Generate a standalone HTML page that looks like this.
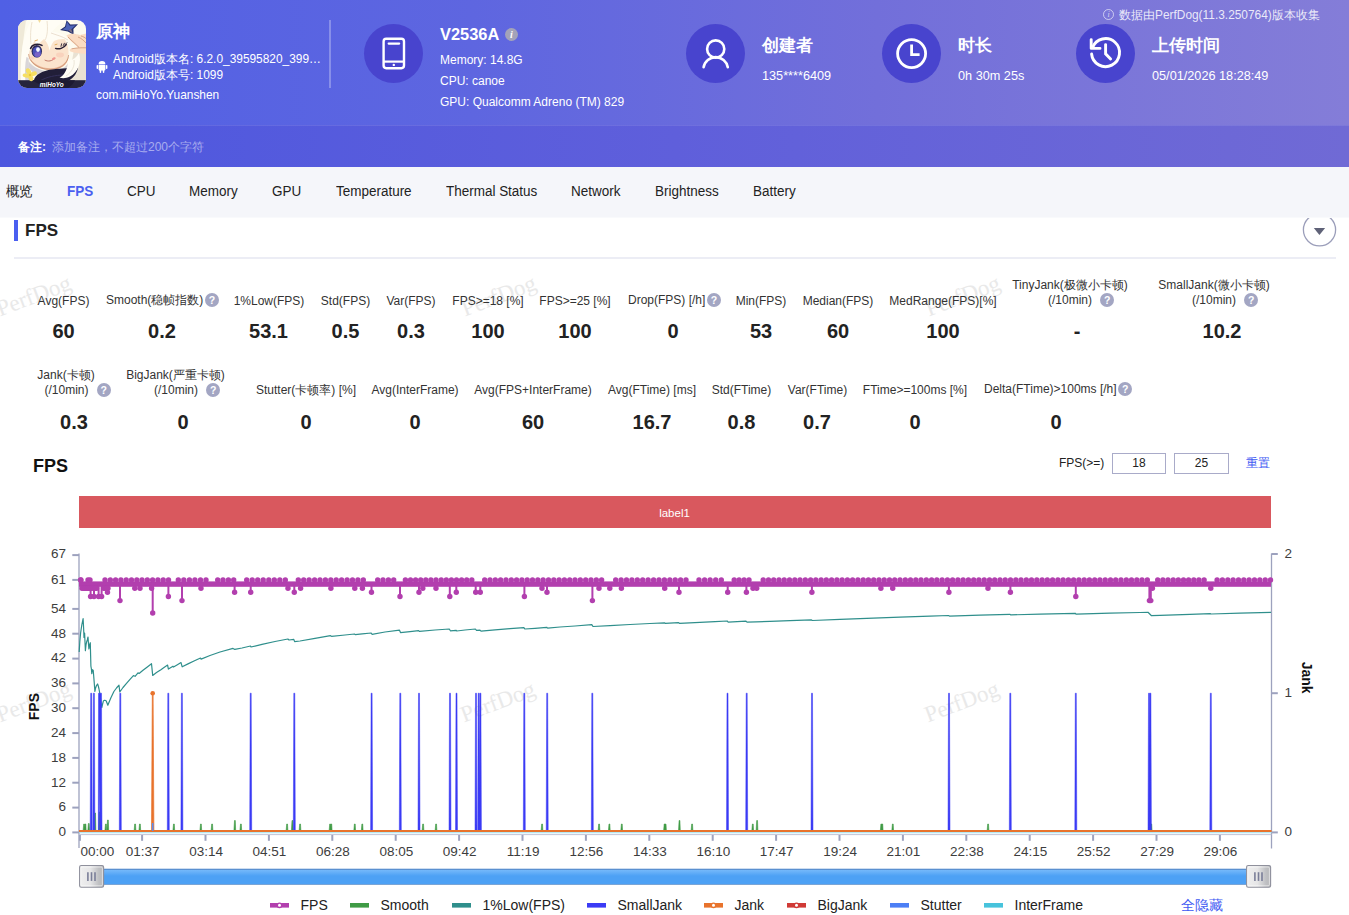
<!DOCTYPE html>
<html>
<head>
<meta charset="utf-8">
<title>PerfDog</title>
<style>
*{box-sizing:border-box;margin:0;padding:0}
html,body{width:1349px;height:915px;overflow:hidden;background:#fff}
body{font-family:"Liberation Sans",sans-serif;color:#222;position:relative}
.abs{position:absolute;white-space:nowrap}
#hdr{position:absolute;left:0;top:0;width:1349px;height:167px;background:linear-gradient(90deg,#5060e5 0%,#5e66e0 35%,#726fda 65%,#847dd8 100%)}
#note{position:absolute;left:0;top:125px;width:1349px;height:42px;background:linear-gradient(90deg,#4c57df 0%,#5f5fdb 50%,#706ad5 100%);border-top:1px solid rgba(255,255,255,.1)}
#tabs{position:absolute;left:0;top:167px;width:1349px;height:50px;background:#f5f6fa;z-index:2}
.w{color:#fff}
.circ{position:absolute;width:59px;height:59px;border-radius:50%;background:#4844ce}
.tab{position:absolute;z-index:3;top:183px;font-size:14px;line-height:16px;color:#222;white-space:nowrap;transform:scaleX(.962);transform-origin:left center}
.sl{position:absolute;font-size:12px;line-height:15px;color:#333;text-align:center;white-space:nowrap;transform:translateX(-50%)}
.sv{position:absolute;font-size:20px;line-height:24px;font-weight:bold;color:#222;text-align:center;white-space:nowrap;transform:translateX(-50%)}
.q{display:inline-block;width:14px;height:14px;border-radius:50%;background:#a3a6c3;color:#fff;font-size:10.5px;line-height:14px;font-weight:bold;text-align:center;vertical-align:0.25px;margin-left:1.5px}
.q2{vertical-align:0.25px}
.wm{position:absolute;font-family:"Liberation Serif",serif;font-size:23px;line-height:26px;height:26px;color:#e9e9e9;transform:rotate(-20.5deg);transform-origin:left bottom;white-space:nowrap}
.lg{position:absolute;top:897px;font-size:14px;line-height:16px;color:#222;white-space:nowrap}
</style>
</head>
<body>
<div id="hdr"></div>
<div id="note"></div>
<div id="tabs"></div>
<!-- app icon -->
<svg class="abs" style="left:18px;top:19.7px" width="68" height="68" viewBox="0 0 68 68">
<defs><clipPath id="ic"><rect x="0" y="0" width="68" height="68" rx="9" ry="9"/></clipPath></defs>
<g clip-path="url(#ic)">
<rect width="68" height="68" fill="#fdfbef"/>
<path d="M56 30L68 28V62H50Z" fill="#e9e2d3"/>
<path d="M0 0H8L4 30L3 62H0Z" fill="#efe9d8"/>
<!-- face -->
<path d="M12 24C16 14 30 11 40 14C48 17 51 26 50.5 34C50 44 42 49 32 49C20 49 10 42 10 33C10 29 11 26 12 24Z" fill="#fbe4cd"/>
<path d="M11 36C14 44 24 48.4 33 48.2C42 48 48 44 50.4 36C50.6 45 42 50 32 50C21 50 12 44 11 36Z" fill="#eab898"/>
<!-- gray hair shade under face -->
<path d="M9 38C12 46 22 51.5 33 51.5C42 51.5 49 47 51 41L54 45C50 54 40 57 30 57C20 57 12 52 9 44Z" fill="#d6d3d6"/>
<path d="M6 36C7 46 9 54 10 61H4C4 52 4 44 6 36Z" fill="#dcd9d9"/>
<!-- hair -->
<path d="M3 62C2 40 4 14 14 0H52C44 2 38 6 34 12C40 12 47 14 51 20C46 18 40 19 36 21C33 25 32 28 31.5 31C31 26 29 22 26 19C22 22 19 26 18 30C17.5 26 17 23 17.5 20C13 25 10.5 32 10.5 38C10 46 11 54 12 62Z" fill="#fffdf5"/>
<path d="M10.6 38C10.4 46 12 54 13.4 61H7.4C6.6 52 7 44 8.4 37Z" fill="#d9d6d8"/><path d="M10.6 34C11 42 20 49.4 32 49.4C42 49.4 50 44 50.6 35" stroke="#c58e6e" stroke-width="0.7" fill="none"/><path d="M14 2C12 12 12.5 20 13 24" stroke="#e9dcc8" stroke-width="0.8" fill="none"/>
<path d="M29 1C30 8 29.5 16 27 20" stroke="#e9dcc8" stroke-width="0.8" fill="none"/>
<path d="M33 13C38 15 44 16 50 20" stroke="#e3d3c0" stroke-width="0.7" fill="none"/>
<path d="M20 0L21.5 3L23 0Z" fill="#f3dc9a"/>
<!-- eye -->
<ellipse cx="18.8" cy="31.2" rx="5.2" ry="6.3" fill="#2d2a5a"/>
<ellipse cx="19" cy="32" rx="4.3" ry="5.2" fill="#4a50b8"/>
<ellipse cx="19.6" cy="34.4" rx="3" ry="2.4" fill="#7a62c8"/>
<ellipse cx="20" cy="29.6" rx="1.9" ry="2.4" fill="#f4f6ff"/>
<path d="M12.6 28.4C14 24.6 19 23 24 25.4" stroke="#2a2035" stroke-width="1.6" fill="none" stroke-linecap="round"/>
<path d="M17 20.8L19.5 20" stroke="#e6b060" stroke-width="1" stroke-linecap="round"/>
<!-- wink -->
<path d="M37.6 28.4C41 29.6 45.6 28.4 48.2 24.6" stroke="#2a2035" stroke-width="1.5" fill="none" stroke-linecap="round"/>
<path d="M43 26.4L43.6 23.8M45.2 25.6L46.4 23.2M47 24.6L48.8 22.8" stroke="#2a2035" stroke-width="0.9" stroke-linecap="round"/>
<path d="M37 24.8L39 24.2" stroke="#e6b060" stroke-width="1" stroke-linecap="round"/>
<ellipse cx="42" cy="35" rx="4" ry="2.4" fill="#f9d3bd"/>
<ellipse cx="14" cy="38" rx="2.6" ry="1.8" fill="#f9d3bd"/>
<!-- mouth -->
<path d="M27 40.2C30 41.8 34 41.2 36.6 38.4" stroke="#c27a6c" stroke-width="1" fill="none" stroke-linecap="round"/>
<ellipse cx="35.8" cy="38.6" rx="2" ry="1.2" fill="#f0968f" transform="rotate(-25 35.8 38.6)"/>
<!-- star -->
<path d="M48.6 0.2L52.4 4.6L60 4.2L55.4 9L55.6 14.8L49.8 11.4L42 10L47 6.4Z" fill="#26306e"/>
<path d="M48.8 1.6L51.8 5.8L57.6 5.2L53.6 9L50 10.6L44.6 9.6L48 7Z" fill="#4d64b8"/>
<path d="M50.4 10.2L53.2 8.8L54.6 13.2Z" fill="#7a7088"/>
<!-- hand -->
<path d="M48.4 15.6C52 12.6 58 13.8 62 15L68 13.6V34C62 33.4 56 33 52.6 31.6C51 30.8 51.6 28.8 53.6 28.6L60 27.6C56 23.6 51 20 48.4 15.6Z" fill="#fbdcc2"/>
<path d="M50 17C54 21 58 24.4 61 27.4M53.6 28.8C58 28 63 27.6 68 27.8M60 17C63 18 66 20.6 68 23M63 16C65.4 16.6 67 17.6 68 18.6" stroke="#c78f6e" stroke-width="0.7" fill="none"/>
<!-- scarf -->
<path d="M16 60C17 55 24 50.6 34 49.4C44 48.2 54 48.4 60 46C60 52 56 58 50 61H16Z" fill="#211e38"/>
<path d="M22 61C28 57 38 55 46 55" stroke="#34305a" stroke-width="1" fill="none"/>
<!-- white lock over scarf -->
<path d="M50 40C54 41 58 38 61 33C64 42 60 52 52 56.6C48 58.6 44 58.4 41.6 57.6C47 55 50 48 50 40Z" fill="#fffdf5"/>
<path d="M56 40C57 46 54 52 48 56" stroke="#e4dccb" stroke-width="0.7" fill="none"/>
<!-- bottom bar -->
<rect x="0" y="60.2" width="68" height="8" fill="#26243b"/>
<path d="M14 60.2C18 63 26 66 34 68H50C54 65 56 62.6 57 60.2Z" fill="#1d1a31"/>
<!-- flower -->
<g fill="#f6df62"><ellipse cx="10.6" cy="51.6" rx="2.4" ry="3.6" transform="rotate(-30 10.6 51.6)"/><ellipse cx="15.6" cy="53.8" rx="3.4" ry="2.2" transform="rotate(-20 15.6 53.8)"/><ellipse cx="8" cy="55.6" rx="3.4" ry="2" transform="rotate(15 8 55.6)"/><ellipse cx="12.8" cy="58" rx="2.4" ry="3.2" transform="rotate(-20 12.8 58)"/><circle cx="11.8" cy="55" r="2.4"/></g>
<circle cx="12" cy="55" r="1.2" fill="#e9c53c"/>
<text x="33.8" y="66.8" font-family="Liberation Sans, sans-serif" font-size="7.2" font-weight="bold" font-style="italic" fill="#fff" text-anchor="middle" textLength="24" lengthAdjust="spacingAndGlyphs">miHoYo</text>
</g>
</svg>
<div class="abs w" style="left:96px;top:22px;font-size:17px;line-height:20px;font-weight:bold">原神</div>
<!-- android icon -->
<svg class="abs" style="left:96px;top:60px" width="12" height="14" viewBox="0 0 12 14">
<path d="M2.6 4.2a3.4 3.2 0 0 1 6.8 0Z" fill="#fff"/>
<rect x="2.6" y="4.8" width="6.8" height="5.6" rx="0.8" fill="#fff"/>
<rect x="0.6" y="4.9" width="1.5" height="4.2" rx="0.75" fill="#fff"/>
<rect x="9.9" y="4.9" width="1.5" height="4.2" rx="0.75" fill="#fff"/>
<rect x="3.7" y="9.6" width="1.5" height="3.4" rx="0.75" fill="#fff"/>
<rect x="6.8" y="9.6" width="1.5" height="3.4" rx="0.75" fill="#fff"/>
</svg>
<div class="abs w" style="left:113px;top:51px;font-size:11.9px;line-height:16px">Android版本名: 6.2.0_39595820_399…</div>
<div class="abs w" style="left:113px;top:67px;font-size:11.9px;line-height:16px">Android版本号: 1099</div>
<div class="abs w" style="left:96px;top:87px;font-size:11.9px;line-height:16px">com.miHoYo.Yuanshen</div>
<div class="abs" style="left:329px;top:20px;width:2px;height:68px;background:rgba(255,255,255,.28)"></div>
<!-- device -->
<div class="circ" style="left:364px;top:24px"></div>
<svg class="abs" style="left:364px;top:24px" width="59" height="59" viewBox="0 0 59 59">
<rect x="19.6" y="14.8" width="20.4" height="29.4" rx="2.6" fill="none" stroke="#fff" stroke-width="2.4"/>
<line x1="19.6" y1="37.6" x2="40" y2="37.6" stroke="#fff" stroke-width="2.2"/>
<line x1="24.6" y1="19.6" x2="35.2" y2="19.6" stroke="#fff" stroke-width="2.1" stroke-linecap="round"/>
<circle cx="29.8" cy="40.9" r="1.2" fill="#fff"/>
</svg>
<div class="abs w" style="left:440px;top:24px;font-size:16.4px;line-height:20px;font-weight:bold">V2536A</div>
<div class="abs" style="left:505px;top:27.5px;width:13px;height:13px;border-radius:50%;background:#a3a3b9;color:#fff;font-size:10px;line-height:13px;text-align:center;font-style:italic;font-weight:bold;font-family:'Liberation Serif',serif">i</div>
<div class="abs w" style="left:440px;top:52px;font-size:12px;line-height:16px">Memory: 14.8G</div>
<div class="abs w" style="left:440px;top:73px;font-size:12px;line-height:16px">CPU: canoe</div>
<div class="abs w" style="left:440px;top:94px;font-size:12px;line-height:16px">GPU: Qualcomm Adreno (TM) 829</div>
<!-- creator -->
<div class="circ" style="left:686px;top:24px"></div>
<svg class="abs" style="left:686px;top:24px" width="59" height="59" viewBox="0 0 59 59">
<circle cx="29.7" cy="25" r="8.6" fill="none" stroke="#fff" stroke-width="2.6"/>
<path d="M17.6 43.2A12.3 12.3 0 0 1 41.8 43.2" fill="none" stroke="#fff" stroke-width="2.6" stroke-linecap="round"/>
</svg>
<div class="abs w" style="left:762px;top:35px;font-size:16.5px;line-height:20px;font-weight:bold">创建者</div>
<div class="abs w" style="left:762px;top:68px;font-size:12.7px;line-height:16px">135****6409</div>
<!-- duration -->
<div class="circ" style="left:882px;top:24px"></div>
<svg class="abs" style="left:882px;top:24px" width="59" height="59" viewBox="0 0 59 59">
<circle cx="29.6" cy="29.6" r="14" fill="none" stroke="#fff" stroke-width="2.8"/>
<path d="M29.6 20.4V30.6H37.6" fill="none" stroke="#fff" stroke-width="2.8"/>
</svg>
<div class="abs w" style="left:958px;top:35px;font-size:16.5px;line-height:20px;font-weight:bold">时长</div>
<div class="abs w" style="left:958px;top:68px;font-size:12.7px;line-height:16px">0h 30m 25s</div>
<!-- upload -->
<div class="circ" style="left:1076px;top:24px"></div>
<svg class="abs" style="left:1076px;top:24px" width="59" height="59" viewBox="0 0 59 59">
<path d="M16.5 23.5A14 14 0 1 1 15.6 30" fill="none" stroke="#fff" stroke-width="2.9" stroke-linecap="round"/>
<path d="M15.2 15.6V24.4H24" fill="none" stroke="#fff" stroke-width="2.9" stroke-linecap="round" stroke-linejoin="round"/>
<path d="M29.6 20.6V29.8L34.6 35" fill="none" stroke="#fff" stroke-width="2.9" stroke-linecap="round"/>
</svg>
<div class="abs w" style="left:1152px;top:35px;font-size:16.5px;line-height:20px;font-weight:bold">上传时间</div>
<div class="abs w" style="left:1152px;top:68px;font-size:12.7px;line-height:16px">05/01/2026 18:28:49</div>
<!-- collected by -->
<div class="abs" style="left:1103px;top:9px;width:11px;height:11px;border-radius:50%;border:1px solid rgba(255,255,255,.6);color:rgba(255,255,255,.7);font-size:8px;line-height:9px;text-align:center;font-style:italic;font-family:'Liberation Serif',serif">i</div>
<div class="abs" style="left:1119px;top:7px;font-size:11.9px;line-height:16px;color:rgba(255,255,255,.85)">数据由PerfDog(11.3.250764)版本收集</div>
<!-- note -->
<div class="abs w" style="left:18px;top:139px;font-size:12px;line-height:16px;font-weight:bold">备注:</div>
<div class="abs" style="left:52px;top:139px;font-size:12px;line-height:16px;color:rgba(255,255,255,.5)">添加备注，不超过200个字符</div>

<div class="tab" style="left:6px">概览</div>
<div class="tab" style="left:67px;color:#4a5ff0;font-weight:bold">FPS</div>
<div class="tab" style="left:127px">CPU</div>
<div class="tab" style="left:189px">Memory</div>
<div class="tab" style="left:272px">GPU</div>
<div class="tab" style="left:336px">Temperature</div>
<div class="tab" style="left:446px">Thermal Status</div>
<div class="tab" style="left:571px">Network</div>
<div class="tab" style="left:655px">Brightness</div>
<div class="tab" style="left:753px">Battery</div>
<div class="abs" style="left:14px;top:220px;width:4px;height:21px;background:#4a5ff0"></div>
<div class="abs" style="left:25px;top:221px;font-size:17px;line-height:20px;font-weight:bold;color:#222">FPS</div>
<svg class="abs" style="left:1295px;top:205px" width="50" height="50" viewBox="1295 205 50 50"><circle cx="1319.5" cy="229.8" r="16.1" fill="#fff" stroke="#9b9eba" stroke-width="1.3"/><path d="M1313.8 227.9H1325.1L1319.45 234.9Z" fill="#5f6278"/></svg>
<div class="abs" style="left:14px;top:257px;width:1322px;height:2px;background:#ecedf5"></div>
<div class="abs" style="left:0;top:217px;width:1349px;height:1px;background:#f9fafc;z-index:2"></div>

<div class="wm" style="left:2px;top:295.5px">PerfDog</div>
<div class="wm" style="left:467px;top:295.5px">PerfDog</div>
<div class="wm" style="left:931px;top:295.5px">PerfDog</div>
<div class="wm" style="left:2px;top:701.5px">PerfDog</div>
<div class="wm" style="left:466px;top:701.5px">PerfDog</div>
<div class="wm" style="left:930px;top:701.5px">PerfDog</div>
<div class="sl" style="left:63.5px;top:294.0px">Avg(FPS)</div>
<div class="sv" style="left:63.5px;top:319px">60</div>
<div class="sl" style="left:106px;top:293.0px;transform:none">Smooth(稳帧指数)<span class="q">?</span></div>
<div class="sv" style="left:162px;top:319px">0.2</div>
<div class="sl" style="left:269px;top:294.0px">1%Low(FPS)</div>
<div class="sv" style="left:268.5px;top:319px">53.1</div>
<div class="sl" style="left:345.5px;top:294.0px">Std(FPS)</div>
<div class="sv" style="left:345.5px;top:319px">0.5</div>
<div class="sl" style="left:411px;top:294.0px">Var(FPS)</div>
<div class="sv" style="left:411px;top:319px">0.3</div>
<div class="sl" style="left:488px;top:294.0px">FPS&gt;=18 [%]</div>
<div class="sv" style="left:488px;top:319px">100</div>
<div class="sl" style="left:575px;top:294.0px">FPS&gt;=25 [%]</div>
<div class="sv" style="left:575px;top:319px">100</div>
<div class="sl" style="left:628px;top:293.0px;transform:none">Drop(FPS) [/h]<span class="q">?</span></div>
<div class="sv" style="left:673px;top:319px">0</div>
<div class="sl" style="left:761px;top:294.0px">Min(FPS)</div>
<div class="sv" style="left:761px;top:319px">53</div>
<div class="sl" style="left:838px;top:294.0px">Median(FPS)</div>
<div class="sv" style="left:838px;top:319px">60</div>
<div class="sl" style="left:943px;top:294.0px">MedRange(FPS)[%]</div>
<div class="sv" style="left:943px;top:319px">100</div>
<div class="sl" style="left:1070px;top:278.0px">TinyJank(极微小卡顿)</div>
<div class="sl" style="left:1048px;top:293.0px;transform:none">(/10min) &nbsp;<span class="q q2">?</span></div>
<div class="sv" style="left:1077px;top:319px">-</div>
<div class="sl" style="left:1214px;top:278.0px">SmallJank(微小卡顿)</div>
<div class="sl" style="left:1192px;top:293.0px;transform:none">(/10min) &nbsp;<span class="q q2">?</span></div>
<div class="sv" style="left:1222px;top:319px">10.2</div>
<div class="sl" style="left:66px;top:368.0px">Jank(卡顿)</div>
<div class="sl" style="left:44.5px;top:383.0px;transform:none">(/10min) &nbsp;<span class="q q2">?</span></div>
<div class="sv" style="left:74px;top:409.5px">0.3</div>
<div class="sl" style="left:175.5px;top:368.0px">BigJank(严重卡顿)</div>
<div class="sl" style="left:154px;top:383.0px;transform:none">(/10min) &nbsp;<span class="q q2">?</span></div>
<div class="sv" style="left:183px;top:409.5px">0</div>
<div class="sl" style="left:306px;top:383.0px">Stutter(卡顿率) [%]</div>
<div class="sv" style="left:306px;top:409.5px">0</div>
<div class="sl" style="left:415px;top:383.0px">Avg(InterFrame)</div>
<div class="sv" style="left:415px;top:409.5px">0</div>
<div class="sl" style="left:533px;top:383.0px">Avg(FPS+InterFrame)</div>
<div class="sv" style="left:533px;top:409.5px">60</div>
<div class="sl" style="left:652px;top:383.0px">Avg(FTime) [ms]</div>
<div class="sv" style="left:652px;top:409.5px">16.7</div>
<div class="sl" style="left:741.5px;top:383.0px">Std(FTime)</div>
<div class="sv" style="left:741.5px;top:409.5px">0.8</div>
<div class="sl" style="left:817.5px;top:383.0px">Var(FTime)</div>
<div class="sv" style="left:817px;top:409.5px">0.7</div>
<div class="sl" style="left:915px;top:383.0px">FTime&gt;=100ms [%]</div>
<div class="sv" style="left:915px;top:409.5px">0</div>
<div class="sl" style="left:984px;top:382.0px;transform:none">Delta(FTime)&gt;100ms [/h]<span class="q">?</span></div>
<div class="sv" style="left:1056px;top:409.5px">0</div>
<div class="abs" style="left:33px;top:456px;font-size:18px;line-height:20px;font-weight:bold;color:#111">FPS</div>
<div class="abs" style="left:1059px;top:456px;font-size:12px;line-height:15px;color:#222">FPS(&gt;=)</div>
<div class="abs" style="left:1112px;top:453px;width:54px;height:21px;border:1px solid #a9abc9;background:#fff;font-size:12px;line-height:19px;text-align:center;color:#222">18</div>
<div class="abs" style="left:1174px;top:453px;width:55px;height:21px;border:1px solid #a9abc9;background:#fff;font-size:12px;line-height:19px;text-align:center;color:#222">25</div>
<div class="abs" style="left:1246px;top:455px;font-size:12px;line-height:16px;color:#3f5af3">重置</div>

<svg class="abs" style="left:0;top:440px" width="1349" height="475" viewBox="0 440 1349 475" font-family="Liberation Sans, sans-serif">
<rect x="79" y="496" width="1192" height="32" fill="#d9585e"/>
<text x="674.5" y="516.6" font-size="11.5" fill="#fff" text-anchor="middle">label1</text>
<path d="M79 553.5V848" stroke="#9da2be" stroke-width="1.3" fill="none"/>
<path d="M1271.5 553.4V848.5" stroke="#9da2be" stroke-width="1.3" fill="none"/>
<path d="M79 834.6H1271.5" stroke="#bcbed2" stroke-width="0.9"/>
<path d="M72.3 555.1H79" stroke="#9da2be" stroke-width="2"/>
<text x="66" y="557.9" font-size="13.5" fill="#3d3d3d" text-anchor="end">67</text>
<path d="M72.3 579.9H79" stroke="#9da2be" stroke-width="2"/>
<text x="66" y="583.7" font-size="13.5" fill="#3d3d3d" text-anchor="end">61</text>
<path d="M72.3 608.9H79" stroke="#9da2be" stroke-width="2"/>
<text x="66" y="612.7" font-size="13.5" fill="#3d3d3d" text-anchor="end">54</text>
<path d="M72.3 633.7H79" stroke="#9da2be" stroke-width="2"/>
<text x="66" y="637.5" font-size="13.5" fill="#3d3d3d" text-anchor="end">48</text>
<path d="M72.3 658.6H79" stroke="#9da2be" stroke-width="2"/>
<text x="66" y="662.4" font-size="13.5" fill="#3d3d3d" text-anchor="end">42</text>
<path d="M72.3 683.4H79" stroke="#9da2be" stroke-width="2"/>
<text x="66" y="687.2" font-size="13.5" fill="#3d3d3d" text-anchor="end">36</text>
<path d="M72.3 708.2H79" stroke="#9da2be" stroke-width="2"/>
<text x="66" y="712.0" font-size="13.5" fill="#3d3d3d" text-anchor="end">30</text>
<path d="M72.3 733.1H79" stroke="#9da2be" stroke-width="2"/>
<text x="66" y="736.9" font-size="13.5" fill="#3d3d3d" text-anchor="end">24</text>
<path d="M72.3 757.9H79" stroke="#9da2be" stroke-width="2"/>
<text x="66" y="761.7" font-size="13.5" fill="#3d3d3d" text-anchor="end">18</text>
<path d="M72.3 782.7H79" stroke="#9da2be" stroke-width="2"/>
<text x="66" y="786.5" font-size="13.5" fill="#3d3d3d" text-anchor="end">12</text>
<path d="M72.3 807.6H79" stroke="#9da2be" stroke-width="2"/>
<text x="66" y="811.4" font-size="13.5" fill="#3d3d3d" text-anchor="end">6</text>
<path d="M72.3 832.4H79" stroke="#9da2be" stroke-width="2"/>
<text x="66" y="836.2" font-size="13.5" fill="#3d3d3d" text-anchor="end">0</text>
<path d="M1271.5 554.0H1277.8" stroke="#9da2be" stroke-width="2"/>
<text x="1284.4" y="558.0" font-size="13.5" fill="#3d3d3d">2</text>
<path d="M1271.5 693.2H1277.8" stroke="#9da2be" stroke-width="2"/>
<text x="1284.4" y="697.2" font-size="13.5" fill="#3d3d3d">1</text>
<path d="M1271.5 832.4H1277.8" stroke="#9da2be" stroke-width="2"/>
<text x="1284.4" y="836.4" font-size="13.5" fill="#3d3d3d">0</text>
<text transform="translate(39.4,706.6) rotate(-90)" font-size="14" font-weight="bold" fill="#111" text-anchor="middle">FPS</text>
<text transform="translate(1302.3,677.7) rotate(90)" font-size="14" font-weight="bold" fill="#111" text-anchor="middle">Jank</text>
<path d="M79.9 835V840.8" stroke="#9da2be" stroke-width="2"/>
<text x="97.3" y="855.9" font-size="13.5" fill="#3d3d3d" text-anchor="middle">00:00</text>
<path d="M142.1 835V840.8" stroke="#9da2be" stroke-width="2"/>
<text x="142.7" y="855.9" font-size="13.5" fill="#3d3d3d" text-anchor="middle">01:37</text>
<path d="M205.5 835V840.8" stroke="#9da2be" stroke-width="2"/>
<text x="206.1" y="855.9" font-size="13.5" fill="#3d3d3d" text-anchor="middle">03:14</text>
<path d="M268.9 835V840.8" stroke="#9da2be" stroke-width="2"/>
<text x="269.5" y="855.9" font-size="13.5" fill="#3d3d3d" text-anchor="middle">04:51</text>
<path d="M332.3 835V840.8" stroke="#9da2be" stroke-width="2"/>
<text x="332.9" y="855.9" font-size="13.5" fill="#3d3d3d" text-anchor="middle">06:28</text>
<path d="M395.7 835V840.8" stroke="#9da2be" stroke-width="2"/>
<text x="396.3" y="855.9" font-size="13.5" fill="#3d3d3d" text-anchor="middle">08:05</text>
<path d="M459.1 835V840.8" stroke="#9da2be" stroke-width="2"/>
<text x="459.7" y="855.9" font-size="13.5" fill="#3d3d3d" text-anchor="middle">09:42</text>
<path d="M522.5 835V840.8" stroke="#9da2be" stroke-width="2"/>
<text x="523.1" y="855.9" font-size="13.5" fill="#3d3d3d" text-anchor="middle">11:19</text>
<path d="M585.9 835V840.8" stroke="#9da2be" stroke-width="2"/>
<text x="586.5" y="855.9" font-size="13.5" fill="#3d3d3d" text-anchor="middle">12:56</text>
<path d="M649.3 835V840.8" stroke="#9da2be" stroke-width="2"/>
<text x="649.9" y="855.9" font-size="13.5" fill="#3d3d3d" text-anchor="middle">14:33</text>
<path d="M712.7 835V840.8" stroke="#9da2be" stroke-width="2"/>
<text x="713.3" y="855.9" font-size="13.5" fill="#3d3d3d" text-anchor="middle">16:10</text>
<path d="M776.1 835V840.8" stroke="#9da2be" stroke-width="2"/>
<text x="776.7" y="855.9" font-size="13.5" fill="#3d3d3d" text-anchor="middle">17:47</text>
<path d="M839.5 835V840.8" stroke="#9da2be" stroke-width="2"/>
<text x="840.1" y="855.9" font-size="13.5" fill="#3d3d3d" text-anchor="middle">19:24</text>
<path d="M902.9 835V840.8" stroke="#9da2be" stroke-width="2"/>
<text x="903.5" y="855.9" font-size="13.5" fill="#3d3d3d" text-anchor="middle">21:01</text>
<path d="M966.3 835V840.8" stroke="#9da2be" stroke-width="2"/>
<text x="966.9" y="855.9" font-size="13.5" fill="#3d3d3d" text-anchor="middle">22:38</text>
<path d="M1029.7 835V840.8" stroke="#9da2be" stroke-width="2"/>
<text x="1030.3" y="855.9" font-size="13.5" fill="#3d3d3d" text-anchor="middle">24:15</text>
<path d="M1093.1 835V840.8" stroke="#9da2be" stroke-width="2"/>
<text x="1093.7" y="855.9" font-size="13.5" fill="#3d3d3d" text-anchor="middle">25:52</text>
<path d="M1156.5 835V840.8" stroke="#9da2be" stroke-width="2"/>
<text x="1157.1" y="855.9" font-size="13.5" fill="#3d3d3d" text-anchor="middle">27:29</text>
<path d="M1219.9 835V840.8" stroke="#9da2be" stroke-width="2"/>
<text x="1220.5" y="855.9" font-size="13.5" fill="#3d3d3d" text-anchor="middle">29:06</text>
<path d="M83.1 831L83.7 824L84.5 824L84.9 831ZM84.4 831L85.0 824L85.8 824L86.2 831ZM87.8 831L88.4 823.5L89.2 823.5L89.6 831ZM94.1 831L94.7 813L95.5 813L95.9 831ZM98.7 831L99.3 812L100.1 812L100.5 831ZM104.9 831L105.5 824L106.3 824L106.7 831ZM106.9 831L107.5 820L108.3 820L108.7 831ZM134.1 831L134.7 824L135.5 824L135.9 831ZM138.9 831L139.5 824L140.3 824L140.7 831ZM172.9 831L173.5 824L174.3 824L174.7 831ZM199.9 831L200.5 824L201.3 824L201.7 831ZM211.1 831L211.7 824L212.5 824L212.9 831ZM233.9 831L234.5 820.5L235.3 820.5L235.7 831ZM239.9 831L240.5 824L241.3 824L241.7 831ZM286.1 831L286.7 824L287.5 824L287.9 831ZM291.4 831L292.0 820.5L292.8 820.5L293.2 831ZM299.1 831L299.7 824L300.5 824L300.9 831ZM329.1 831L329.7 824L330.5 824L330.9 831ZM330.3 831L330.9 824L331.7 824L332.1 831ZM353.8 831L354.4 824L355.2 824L355.6 831ZM361.3 831L361.9 824L362.7 824L363.1 831ZM422.1 831L422.7 824L423.5 824L423.9 831ZM435.1 831L435.7 824L436.5 824L436.9 831ZM541.1 831L541.7 824L542.5 824L542.9 831ZM598.1 831L598.7 824L599.5 824L599.9 831ZM608.4 831L609.0 824L609.8 824L610.2 831ZM620.8 831L621.4 824L622.2 824L622.6 831ZM663.6 831L664.2 824L665.0 824L665.4 831ZM664.6 831L665.2 824L666.0 824L666.4 831ZM678.5 831L679.1 820.5L679.9 820.5L680.3 831ZM691.1 831L691.7 824L692.5 824L692.9 831ZM751.8 831L752.4 824L753.2 824L753.6 831ZM756.1 831L756.7 820.5L757.5 820.5L757.9 831ZM880.3 831L880.9 824L881.7 824L882.1 831ZM881.3 831L881.9 824L882.7 824L883.1 831ZM891.8 831L892.4 824L893.2 824L893.6 831ZM987.1 831L987.7 824L988.5 824L988.9 831ZM1150.3 831L1150.9 824L1151.7 824L1152.1 831Z" fill="#3f9b45" stroke="#3f9b45" stroke-width="0.6"/>
<path d="M79.2 652.0L79.8 642.0L80.6 633.0L81.8 625.0L83.1 618.6L83.6 628.0L84.0 637.5L84.6 633.0L85.0 642.0L85.4 650.7L86.0 645.0L86.6 642.0L87.3 640.0L88.0 637.0L88.5 644.0L88.9 649.0L89.6 645.0L90.3 642.7L90.6 655.0L90.9 666.2L91.4 669.0L91.8 673.7L92.3 669.7L93.2 670.2L93.7 676.0L94.1 681.0L94.9 691.5L95.6 688.0L96.4 685.7L97.6 684.0L98.3 686.0L99.0 689.0L99.9 693.8L100.8 701.0L101.8 707.5L102.6 704.0L103.5 700.7L104.8 700.2L106.1 700.7L107.0 703.0L107.8 705.2L110.8 698.0L113.9 691.5L116.5 688.0L119.0 685.2L119.8 692.0L123.0 687.5L126.5 683.4L130.0 679.3L133.4 675.6L135.1 676.3L138.0 672.9L139.1 673.5L143.0 670.3L147.0 667.2L151.5 663.7L152.7 675.4L156.5 672.6L160.9 669.7L164.0 667.5L167.6 665.1L168.4 669.1L173.0 666.2L173.5 667.0L177.0 664.9L181.0 662.6L182.2 666.8L188.0 663.9L194.0 661.0L200.5 658.0L201.1 659.1L210.0 655.5L220.0 652.0L233.0 648.4L234.8 649.4L242.0 648.0L250.5 646.0L251.0 647.0L262.0 644.4L275.0 641.5L287.9 639.0L289.0 640.0L293.8 639.4L294.6 641.6L300.0 641.0L315.0 638.4L330.5 635.7L331.5 636.3L345.0 635.0L354.5 634.0L355.2 634.6L362.2 633.8L371.2 633.0L372.0 634.3L385.0 632.0L399.5 630.2L400.5 632.6L410.0 631.6L418.6 630.6L419.4 631.4L435.0 630.0L449.3 629.0L450.4 630.8L456.0 630.3L456.8 631.0L465.0 630.0L475.4 629.0L476.5 630.4L480.0 630.2L481.0 631.2L495.0 629.8L510.0 628.7L523.9 627.7L524.8 629.0L535.0 628.3L546.7 627.3L547.6 628.1L560.0 627.0L575.0 626.0L591.8 624.7L593.0 626.5L610.0 625.7L630.0 624.5L650.0 623.5L664.5 622.8L665.2 623.3L678.6 622.6L679.4 623.3L700.0 622.3L715.0 621.6L727.2 621.0L728.2 622.1L746.0 621.1L747.0 622.1L756.0 621.9L770.0 621.4L790.0 620.6L811.5 619.9L812.3 620.5L840.0 619.3L880.0 617.9L900.0 617.2L930.0 616.2L948.5 615.5L949.4 616.1L980.0 615.1L1009.8 614.3L1010.8 614.9L1040.0 614.1L1075.2 613.3L1076.2 614.2L1110.0 613.2L1140.0 612.5L1148.0 612.3L1151.5 615.7L1160.0 615.3L1190.0 614.3L1210.5 613.7L1211.2 614.0L1240.0 613.1L1271.0 612.4" fill="none" stroke="#2f8f8c" stroke-width="1.2" stroke-linejoin="round"/>
<path d="M90.20 831L90.70 693.2L91.70 693.2L92.20 831ZM92.90 831L93.40 693.2L94.40 693.2L94.90 831ZM119.30 831L119.80 693.2L120.80 693.2L121.30 831ZM167.30 831L167.80 693.2L168.80 693.2L169.30 831ZM180.90 831L181.40 693.2L182.40 693.2L182.90 831ZM249.70 831L250.20 693.2L251.20 693.2L251.70 831ZM293.30 831L293.80 693.2L294.80 693.2L295.30 831ZM370.60 831L371.10 693.2L372.10 693.2L372.60 831ZM399.30 831L399.80 693.2L400.80 693.2L401.30 831ZM418.00 831L418.50 693.2L419.50 693.2L420.00 831ZM449.00 831L449.50 693.2L450.50 693.2L451.00 831ZM455.50 831L456.00 693.2L457.00 693.2L457.50 831ZM475.00 831L475.50 693.2L476.50 693.2L477.00 831ZM477.70 831L478.20 693.2L479.20 693.2L479.70 831ZM479.40 831L479.90 693.2L480.90 693.2L481.40 831ZM523.30 831L523.80 693.2L524.80 693.2L525.30 831ZM546.20 831L546.70 693.2L547.70 693.2L548.20 831ZM591.30 831L591.80 693.2L592.80 693.2L593.30 831ZM726.50 831L727.00 693.2L728.00 693.2L728.50 831ZM745.70 831L746.20 693.2L747.20 693.2L747.70 831ZM811.00 831L811.50 693.2L812.50 693.2L813.00 831ZM948.00 831L948.50 693.2L949.50 693.2L950.00 831ZM1009.30 831L1009.80 693.2L1010.80 693.2L1011.30 831ZM1074.80 831L1075.30 693.2L1076.30 693.2L1076.80 831ZM1148.00 831L1148.50 693.2L1149.50 693.2L1150.00 831ZM1149.40 831L1149.90 693.2L1150.90 693.2L1151.40 831ZM1209.80 831L1210.30 693.2L1211.30 693.2L1211.80 831ZM98.3 831L98.5 693.2L101.5 693.2L102 831L99.9 831L99.5 770L99.1 831Z" fill="#3b3bf5" stroke="#3b3bf5" stroke-width="0.5"/>
<path d="M79 832.8H1271.5" stroke="#9fe0ee" stroke-width="1.1"/>
<path d="M79 831.05H1271.5" stroke="#e8732c" stroke-width="2"/>
<path d="M151.5 831L152.29999999999998 694.2L153.1 694.2L153.89999999999998 831Z" fill="#e8732c" stroke="#e8732c" stroke-width="0.7"/>
<circle cx="152.7" cy="693.2" r="2.3" fill="#e8732c"/>
<path d="M152.7 823V831" stroke="#5b8def" stroke-width="1.6"/>
<rect x="79" y="581.4" width="1192" height="5.4" fill="#b23fae"/>
<path d="M120.0 584.1V600.6M152.7 584.1V613.0M168.4 584.1V596.5M182.0 584.1V600.6M234.6 584.1V592.3M250.7 584.1V592.3M294.3 584.1V592.3M371.5 584.1V592.3M400.0 584.1V596.5M419.0 584.1V592.3M449.8 584.1V596.5M456.3 584.1V592.3M475.7 584.1V592.3M480.3 584.1V592.3M524.4 584.1V596.5M547.0 584.1V592.3M592.4 584.1V600.6M679.0 584.1V592.3M727.7 584.1V592.3M746.4 584.1V592.3M811.9 584.1V592.3M948.9 584.1V592.3M1010.4 584.1V592.3M1075.8 584.1V596.5M1149.4 584.1V600.6M1150.8 584.1V600.6M90.6 584.1V596.5M94.0 584.1V596.5M98.6 584.1V596.5M101.6 584.1V596.5M107.5 584.1V592.3" stroke="#b23fae" stroke-width="2" fill="none"/>
<g fill="#b23fae"><circle cx="80.8" cy="579.9" r="2.7"/><circle cx="80.8" cy="579.9" r="2.7"/><circle cx="88.0" cy="579.9" r="2.7"/><circle cx="90.0" cy="579.9" r="2.7"/><circle cx="105.0" cy="579.9" r="2.7"/><circle cx="110.3" cy="579.9" r="2.7"/><circle cx="115.6" cy="579.9" r="2.7"/><circle cx="120.9" cy="579.9" r="2.7"/><circle cx="126.2" cy="579.9" r="2.7"/><circle cx="131.5" cy="579.9" r="2.7"/><circle cx="136.8" cy="579.9" r="2.7"/><circle cx="142.0" cy="579.9" r="2.7"/><circle cx="147.3" cy="579.9" r="2.7"/><circle cx="152.6" cy="579.9" r="2.7"/><circle cx="157.9" cy="579.9" r="2.7"/><circle cx="163.2" cy="579.9" r="2.7"/><circle cx="168.5" cy="579.9" r="2.7"/><circle cx="178.3" cy="579.9" r="2.7"/><circle cx="183.8" cy="579.9" r="2.7"/><circle cx="189.4" cy="579.9" r="2.7"/><circle cx="194.9" cy="579.9" r="2.7"/><circle cx="200.5" cy="579.9" r="2.7"/><circle cx="206.0" cy="579.9" r="2.7"/><circle cx="217.7" cy="579.9" r="2.7"/><circle cx="223.0" cy="579.9" r="2.7"/><circle cx="228.4" cy="579.9" r="2.7"/><circle cx="233.7" cy="579.9" r="2.7"/><circle cx="246.7" cy="579.9" r="2.7"/><circle cx="252.2" cy="579.9" r="2.7"/><circle cx="257.7" cy="579.9" r="2.7"/><circle cx="263.2" cy="579.9" r="2.7"/><circle cx="268.8" cy="579.9" r="2.7"/><circle cx="274.3" cy="579.9" r="2.7"/><circle cx="279.8" cy="579.9" r="2.7"/><circle cx="285.3" cy="579.9" r="2.7"/><circle cx="298.3" cy="579.9" r="2.7"/><circle cx="303.7" cy="579.9" r="2.7"/><circle cx="309.1" cy="579.9" r="2.7"/><circle cx="314.6" cy="579.9" r="2.7"/><circle cx="320.0" cy="579.9" r="2.7"/><circle cx="325.4" cy="579.9" r="2.7"/><circle cx="330.8" cy="579.9" r="2.7"/><circle cx="336.2" cy="579.9" r="2.7"/><circle cx="341.6" cy="579.9" r="2.7"/><circle cx="347.1" cy="579.9" r="2.7"/><circle cx="352.5" cy="579.9" r="2.7"/><circle cx="357.9" cy="579.9" r="2.7"/><circle cx="363.3" cy="579.9" r="2.7"/><circle cx="377.7" cy="579.9" r="2.7"/><circle cx="383.0" cy="579.9" r="2.7"/><circle cx="388.4" cy="579.9" r="2.7"/><circle cx="393.7" cy="579.9" r="2.7"/><circle cx="405.4" cy="579.9" r="2.7"/><circle cx="410.5" cy="579.9" r="2.7"/><circle cx="415.6" cy="579.9" r="2.7"/><circle cx="420.7" cy="579.9" r="2.7"/><circle cx="425.8" cy="579.9" r="2.7"/><circle cx="430.9" cy="579.9" r="2.7"/><circle cx="436.0" cy="579.9" r="2.7"/><circle cx="441.2" cy="579.9" r="2.7"/><circle cx="446.3" cy="579.9" r="2.7"/><circle cx="451.4" cy="579.9" r="2.7"/><circle cx="456.5" cy="579.9" r="2.7"/><circle cx="461.6" cy="579.9" r="2.7"/><circle cx="466.7" cy="579.9" r="2.7"/><circle cx="471.8" cy="579.9" r="2.7"/><circle cx="484.7" cy="579.9" r="2.7"/><circle cx="490.0" cy="579.9" r="2.7"/><circle cx="495.3" cy="579.9" r="2.7"/><circle cx="500.6" cy="579.9" r="2.7"/><circle cx="506.0" cy="579.9" r="2.7"/><circle cx="511.3" cy="579.9" r="2.7"/><circle cx="516.6" cy="579.9" r="2.7"/><circle cx="521.9" cy="579.9" r="2.7"/><circle cx="527.2" cy="579.9" r="2.7"/><circle cx="532.5" cy="579.9" r="2.7"/><circle cx="537.8" cy="579.9" r="2.7"/><circle cx="543.1" cy="579.9" r="2.7"/><circle cx="548.5" cy="579.9" r="2.7"/><circle cx="553.8" cy="579.9" r="2.7"/><circle cx="559.1" cy="579.9" r="2.7"/><circle cx="564.4" cy="579.9" r="2.7"/><circle cx="569.7" cy="579.9" r="2.7"/><circle cx="575.0" cy="579.9" r="2.7"/><circle cx="580.3" cy="579.9" r="2.7"/><circle cx="585.7" cy="579.9" r="2.7"/><circle cx="591.0" cy="579.9" r="2.7"/><circle cx="596.3" cy="579.9" r="2.7"/><circle cx="601.6" cy="579.9" r="2.7"/><circle cx="615.7" cy="579.9" r="2.7"/><circle cx="621.1" cy="579.9" r="2.7"/><circle cx="626.5" cy="579.9" r="2.7"/><circle cx="631.9" cy="579.9" r="2.7"/><circle cx="637.3" cy="579.9" r="2.7"/><circle cx="642.7" cy="579.9" r="2.7"/><circle cx="648.1" cy="579.9" r="2.7"/><circle cx="653.6" cy="579.9" r="2.7"/><circle cx="659.0" cy="579.9" r="2.7"/><circle cx="664.4" cy="579.9" r="2.7"/><circle cx="669.8" cy="579.9" r="2.7"/><circle cx="675.2" cy="579.9" r="2.7"/><circle cx="680.6" cy="579.9" r="2.7"/><circle cx="686.0" cy="579.9" r="2.7"/><circle cx="699.0" cy="579.9" r="2.7"/><circle cx="704.6" cy="579.9" r="2.7"/><circle cx="710.1" cy="579.9" r="2.7"/><circle cx="715.7" cy="579.9" r="2.7"/><circle cx="721.3" cy="579.9" r="2.7"/><circle cx="734.2" cy="579.9" r="2.7"/><circle cx="739.1" cy="579.9" r="2.7"/><circle cx="744.1" cy="579.9" r="2.7"/><circle cx="749.0" cy="579.9" r="2.7"/><circle cx="763.2" cy="579.9" r="2.7"/><circle cx="768.5" cy="579.9" r="2.7"/><circle cx="773.7" cy="579.9" r="2.7"/><circle cx="779.0" cy="579.9" r="2.7"/><circle cx="784.2" cy="579.9" r="2.7"/><circle cx="789.5" cy="579.9" r="2.7"/><circle cx="794.8" cy="579.9" r="2.7"/><circle cx="800.0" cy="579.9" r="2.7"/><circle cx="805.3" cy="579.9" r="2.7"/><circle cx="810.6" cy="579.9" r="2.7"/><circle cx="815.8" cy="579.9" r="2.7"/><circle cx="821.1" cy="579.9" r="2.7"/><circle cx="826.3" cy="579.9" r="2.7"/><circle cx="831.6" cy="579.9" r="2.7"/><circle cx="836.9" cy="579.9" r="2.7"/><circle cx="842.1" cy="579.9" r="2.7"/><circle cx="847.4" cy="579.9" r="2.7"/><circle cx="852.6" cy="579.9" r="2.7"/><circle cx="857.9" cy="579.9" r="2.7"/><circle cx="863.2" cy="579.9" r="2.7"/><circle cx="868.4" cy="579.9" r="2.7"/><circle cx="873.7" cy="579.9" r="2.7"/><circle cx="879.0" cy="579.9" r="2.7"/><circle cx="884.2" cy="579.9" r="2.7"/><circle cx="889.5" cy="579.9" r="2.7"/><circle cx="894.7" cy="579.9" r="2.7"/><circle cx="900.0" cy="579.9" r="2.7"/><circle cx="905.3" cy="579.9" r="2.7"/><circle cx="910.5" cy="579.9" r="2.7"/><circle cx="915.8" cy="579.9" r="2.7"/><circle cx="921.0" cy="579.9" r="2.7"/><circle cx="926.3" cy="579.9" r="2.7"/><circle cx="931.6" cy="579.9" r="2.7"/><circle cx="936.8" cy="579.9" r="2.7"/><circle cx="942.1" cy="579.9" r="2.7"/><circle cx="947.4" cy="579.9" r="2.7"/><circle cx="952.6" cy="579.9" r="2.7"/><circle cx="957.9" cy="579.9" r="2.7"/><circle cx="963.1" cy="579.9" r="2.7"/><circle cx="968.4" cy="579.9" r="2.7"/><circle cx="973.7" cy="579.9" r="2.7"/><circle cx="978.9" cy="579.9" r="2.7"/><circle cx="984.2" cy="579.9" r="2.7"/><circle cx="989.5" cy="579.9" r="2.7"/><circle cx="994.7" cy="579.9" r="2.7"/><circle cx="1000.0" cy="579.9" r="2.7"/><circle cx="1005.2" cy="579.9" r="2.7"/><circle cx="1010.5" cy="579.9" r="2.7"/><circle cx="1015.8" cy="579.9" r="2.7"/><circle cx="1021.0" cy="579.9" r="2.7"/><circle cx="1026.3" cy="579.9" r="2.7"/><circle cx="1031.5" cy="579.9" r="2.7"/><circle cx="1036.8" cy="579.9" r="2.7"/><circle cx="1042.1" cy="579.9" r="2.7"/><circle cx="1047.3" cy="579.9" r="2.7"/><circle cx="1052.6" cy="579.9" r="2.7"/><circle cx="1057.9" cy="579.9" r="2.7"/><circle cx="1063.1" cy="579.9" r="2.7"/><circle cx="1068.4" cy="579.9" r="2.7"/><circle cx="1073.6" cy="579.9" r="2.7"/><circle cx="1078.9" cy="579.9" r="2.7"/><circle cx="1084.2" cy="579.9" r="2.7"/><circle cx="1089.4" cy="579.9" r="2.7"/><circle cx="1094.7" cy="579.9" r="2.7"/><circle cx="1099.9" cy="579.9" r="2.7"/><circle cx="1105.2" cy="579.9" r="2.7"/><circle cx="1110.5" cy="579.9" r="2.7"/><circle cx="1115.7" cy="579.9" r="2.7"/><circle cx="1121.0" cy="579.9" r="2.7"/><circle cx="1126.3" cy="579.9" r="2.7"/><circle cx="1131.5" cy="579.9" r="2.7"/><circle cx="1136.8" cy="579.9" r="2.7"/><circle cx="1142.0" cy="579.9" r="2.7"/><circle cx="1147.3" cy="579.9" r="2.7"/><circle cx="1157.7" cy="579.9" r="2.7"/><circle cx="1162.9" cy="579.9" r="2.7"/><circle cx="1168.0" cy="579.9" r="2.7"/><circle cx="1173.2" cy="579.9" r="2.7"/><circle cx="1178.3" cy="579.9" r="2.7"/><circle cx="1183.5" cy="579.9" r="2.7"/><circle cx="1188.6" cy="579.9" r="2.7"/><circle cx="1193.8" cy="579.9" r="2.7"/><circle cx="1198.9" cy="579.9" r="2.7"/><circle cx="1204.1" cy="579.9" r="2.7"/><circle cx="1217.1" cy="579.9" r="2.7"/><circle cx="1222.4" cy="579.9" r="2.7"/><circle cx="1227.8" cy="579.9" r="2.7"/><circle cx="1233.1" cy="579.9" r="2.7"/><circle cx="1238.5" cy="579.9" r="2.7"/><circle cx="1243.8" cy="579.9" r="2.7"/><circle cx="1249.1" cy="579.9" r="2.7"/><circle cx="1254.5" cy="579.9" r="2.7"/><circle cx="1259.8" cy="579.9" r="2.7"/><circle cx="1265.2" cy="579.9" r="2.7"/><circle cx="1270.5" cy="579.9" r="2.7"/><circle cx="108.0" cy="588.2" r="2.7"/><circle cx="120.0" cy="600.6" r="2.7"/><circle cx="134.8" cy="588.2" r="2.7"/><circle cx="140.0" cy="588.2" r="2.7"/><circle cx="152.7" cy="613.0" r="2.7"/><circle cx="168.4" cy="596.5" r="2.7"/><circle cx="182.0" cy="600.6" r="2.7"/><circle cx="201.0" cy="588.2" r="2.7"/><circle cx="234.6" cy="592.3" r="2.7"/><circle cx="250.7" cy="592.3" r="2.7"/><circle cx="288.0" cy="588.2" r="2.7"/><circle cx="294.3" cy="592.3" r="2.7"/><circle cx="300.6" cy="588.2" r="2.7"/><circle cx="330.9" cy="588.2" r="2.7"/><circle cx="354.8" cy="588.2" r="2.7"/><circle cx="362.4" cy="588.2" r="2.7"/><circle cx="371.5" cy="592.3" r="2.7"/><circle cx="400.0" cy="596.5" r="2.7"/><circle cx="419.0" cy="592.3" r="2.7"/><circle cx="422.8" cy="588.2" r="2.7"/><circle cx="436.0" cy="588.2" r="2.7"/><circle cx="449.8" cy="596.5" r="2.7"/><circle cx="456.3" cy="592.3" r="2.7"/><circle cx="475.7" cy="592.3" r="2.7"/><circle cx="480.3" cy="592.3" r="2.7"/><circle cx="524.4" cy="596.5" r="2.7"/><circle cx="542.0" cy="588.2" r="2.7"/><circle cx="547.0" cy="592.3" r="2.7"/><circle cx="592.4" cy="600.6" r="2.7"/><circle cx="599.0" cy="588.2" r="2.7"/><circle cx="609.8" cy="588.2" r="2.7"/><circle cx="621.4" cy="588.2" r="2.7"/><circle cx="664.7" cy="588.2" r="2.7"/><circle cx="679.0" cy="592.3" r="2.7"/><circle cx="727.7" cy="592.3" r="2.7"/><circle cx="746.4" cy="592.3" r="2.7"/><circle cx="753.0" cy="588.2" r="2.7"/><circle cx="756.7" cy="588.2" r="2.7"/><circle cx="811.9" cy="592.3" r="2.7"/><circle cx="880.9" cy="588.2" r="2.7"/><circle cx="892.7" cy="588.2" r="2.7"/><circle cx="948.9" cy="592.3" r="2.7"/><circle cx="988.0" cy="588.2" r="2.7"/><circle cx="1010.4" cy="592.3" r="2.7"/><circle cx="1075.8" cy="596.5" r="2.7"/><circle cx="1149.4" cy="600.6" r="2.7"/><circle cx="1150.8" cy="600.6" r="2.7"/><circle cx="1152.4" cy="588.2" r="2.7"/><circle cx="1210.8" cy="588.2" r="2.7"/><circle cx="90.6" cy="596.5" r="2.7"/><circle cx="94.0" cy="596.5" r="2.7"/><circle cx="98.6" cy="596.5" r="2.7"/><circle cx="101.6" cy="596.5" r="2.7"/><circle cx="107.5" cy="592.3" r="2.7"/><circle cx="151.6" cy="588.2" r="2.7"/><circle cx="82.0" cy="588.2" r="2.7"/><circle cx="84.5" cy="588.2" r="2.7"/><circle cx="87.0" cy="588.2" r="2.7"/><circle cx="89.0" cy="588.2" r="2.7"/><circle cx="96.5" cy="588.2" r="2.7"/><circle cx="104.0" cy="588.2" r="2.7"/><circle cx="83.5" cy="588.2" r="2.7"/><circle cx="85.5" cy="588.2" r="2.7"/><circle cx="87.5" cy="588.2" r="2.7"/><circle cx="89.5" cy="588.2" r="2.7"/><circle cx="91.5" cy="588.2" r="2.7"/><circle cx="93.5" cy="588.2" r="2.7"/><circle cx="95.5" cy="588.2" r="2.7"/><circle cx="104.5" cy="588.2" r="2.7"/><circle cx="106.5" cy="588.2" r="2.7"/></g>
<defs><linearGradient id="sb" x1="0" y1="0" x2="0" y2="1"><stop offset="0" stop-color="#5a90d0"/><stop offset="0.07" stop-color="#5a90d0"/><stop offset="0.09" stop-color="#74b8fa"/><stop offset="0.45" stop-color="#4da1f5"/><stop offset="0.92" stop-color="#4da1f5"/><stop offset="0.94" stop-color="#5a8fcc"/><stop offset="1" stop-color="#5a8fcc"/></linearGradient><linearGradient id="hd" x1="0" y1="0" x2="1" y2="0"><stop offset="0" stop-color="#efefef"/><stop offset="0.45" stop-color="#e6e6e7"/><stop offset="0.8" stop-color="#bfc0c3"/><stop offset="1" stop-color="#b6b7ba"/></linearGradient></defs>
<rect x="90" y="868.7" width="1170" height="16.1" fill="url(#sb)"/>
<rect x="79.6" y="865.5" width="24" height="21.8" rx="1.6" fill="url(#hd)" stroke="#8f909c" stroke-width="1.1"/>
<rect x="80.8" y="867" width="21.6" height="18.8" rx="1.2" fill="none" stroke="rgba(255,255,255,.55)" stroke-width="1"/>
<path d="M87.9 872.2V880.9" stroke="#7a7e98" stroke-width="1.6"/>
<path d="M91.5 872.2V880.9" stroke="#7a7e98" stroke-width="1.6"/>
<path d="M95.0 872.2V880.9" stroke="#7a7e98" stroke-width="1.6"/>
<rect x="1246.6" y="865.5" width="24" height="21.8" rx="1.6" fill="url(#hd)" stroke="#8f909c" stroke-width="1.1"/>
<rect x="1247.8" y="867" width="21.6" height="18.8" rx="1.2" fill="none" stroke="rgba(255,255,255,.55)" stroke-width="1"/>
<path d="M1254.9 872.2V880.9" stroke="#7a7e98" stroke-width="1.6"/>
<path d="M1258.5 872.2V880.9" stroke="#7a7e98" stroke-width="1.6"/>
<path d="M1262.0 872.2V880.9" stroke="#7a7e98" stroke-width="1.6"/>
<rect x="270" y="903" width="19" height="4.6" fill="#b23fae"/>
<circle cx="279.5" cy="905.3" r="2.2" fill="#fff" stroke="#b23fae" stroke-width="1.4"/>
<text x="300.5" y="910" font-size="14" fill="#222">FPS</text>
<rect x="350" y="903" width="19" height="4.6" fill="#3f9b45"/>
<text x="380.5" y="910" font-size="14" fill="#222">Smooth</text>
<rect x="452" y="903" width="19" height="4.6" fill="#2f8f8c"/>
<text x="482.5" y="910" font-size="14" fill="#222">1%Low(FPS)</text>
<rect x="587" y="903" width="19" height="4.6" fill="#3b3bf5"/>
<text x="617.5" y="910" font-size="14" fill="#222">SmallJank</text>
<rect x="704" y="903" width="19" height="4.6" fill="#e8732c"/>
<circle cx="713.5" cy="905.3" r="2.2" fill="#fff" stroke="#e8732c" stroke-width="1.4"/>
<text x="734.5" y="910" font-size="14" fill="#222">Jank</text>
<rect x="787" y="903" width="19" height="4.6" fill="#d03a36"/>
<circle cx="796.5" cy="905.3" r="2.2" fill="#fff" stroke="#d03a36" stroke-width="1.4"/>
<text x="817.5" y="910" font-size="14" fill="#222">BigJank</text>
<rect x="890" y="903" width="19" height="4.6" fill="#4c7ff5"/>
<text x="920.5" y="910" font-size="14" fill="#222">Stutter</text>
<rect x="984" y="903" width="19" height="4.6" fill="#47c3dc"/>
<text x="1014.5" y="910" font-size="14" fill="#222">InterFrame</text>
<text x="1181" y="909.5" font-size="14" fill="#3f5af3">全隐藏</text>
</svg>

</body>
</html>
